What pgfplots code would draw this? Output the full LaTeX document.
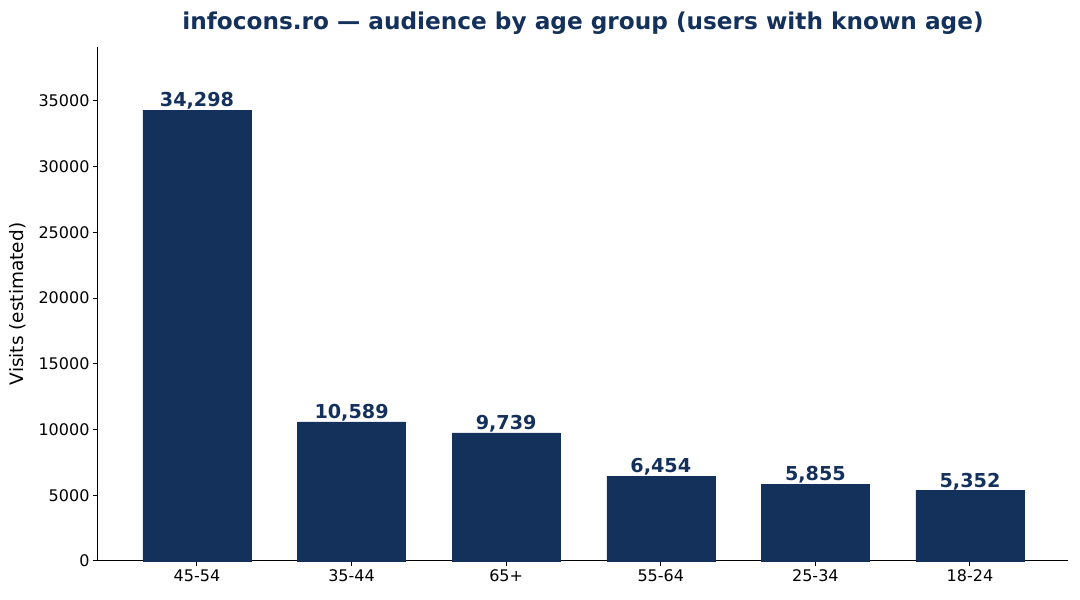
\documentclass[border=0pt]{standalone}
\usepackage{pgfplots}
\pgfplotsset{compat=1.18}
\usepackage{fontspec}
\setmainfont{DejaVu Sans}
\definecolor{navy}{HTML}{14315C}
\begin{document}
\begin{tikzpicture}[x=1pt,y=1pt]
\path[use as bounding box] (0,0) rectangle (1080,600);
\begin{axis}[
  at={(98pt,39pt)}, anchor=south west,
  scale only axis, width=970pt, height=514pt,
  xmin=-0.64, xmax=5.634, ymin=0, ymax=39100,
  axis x line*=bottom, axis y line*=left,
  axis line style={black, line width=1pt},
  ytick={0,5000,10000,15000,20000,25000,30000,35000},
  xtick={0,1,2,3,4,5},
  xticklabels={45-54,35-44,65+,55-64,25-34,18-24},
  tick style={black, line width=1pt},
  tick align=outside, major tick length=5pt,
  ticklabel style={font=\fontsize{16}{18}\selectfont},
  /pgf/number format/assume math mode=true,
  scaled y ticks=false,
  yticklabel={\pgfmathprintnumber[fixed,1000 sep={}]{\tick}},
  ylabel={Visits (estimated)},
  ylabel style={font=\fontsize{18.5}{20}\selectfont, at={(axis description cs:-0.0711,0.5)}, anchor=south},
  title={\textbf{infocons.ro — audience by age group (users with known age)}},
  title style={font=\fontsize{23.2}{26}\selectfont, color=navy, at={(axis description cs:0.5,1)}, yshift=11pt, anchor=base},
  ybar, bar width=108pt,
  nodes near coords={\pgfmathprintnumber[fixed,1000 sep={,}]{\pgfplotspointmeta}},
  nodes near coords style={font=\bfseries\fontsize{19.2}{21}\selectfont, color=navy, anchor=south, yshift=-3pt},
  clip=false,
]
\addplot[fill=navy, draw=navy] coordinates {(0,34298) (1,10589) (2,9739) (3,6454) (4,5855) (5,5352)};
\end{axis}
\end{tikzpicture}
\end{document}
